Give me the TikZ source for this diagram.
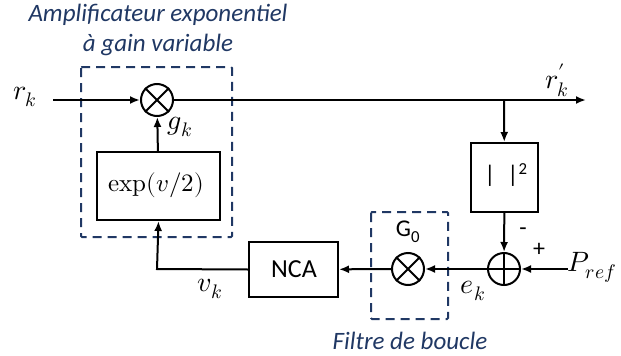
\documentclass[tikz,border=0pt]{standalone}
\usepackage{fontspec}
\setmainfont{Carlito}
\usepackage{unicode-math}
\setmathfont{Latin Modern Math}
\usetikzlibrary{arrows.meta}
\definecolor{dblue}{HTML}{203864}
\begin{document}
\begin{tikzpicture}[x=1pt,y=-1pt,
  line width=2pt,
  arr/.style={-{Latex[length=10pt,width=8pt]}},
  blk/.style={draw,rectangle,inner sep=0pt},
  mult/.style={draw,circle,minimum size=32pt,inner sep=0pt},
  dbox/.style={draw=dblue,line width=2pt,dash pattern=on 9pt off 6pt,rounded corners=1pt},
  ttl/.style={text=dblue,font=\fontsize{25}{30}\selectfont\itshape,inner sep=0pt},
  lbl/.style={font=\fontsize{28}{32}\selectfont,inner sep=0pt},
  txt/.style={font=\fontsize{24}{27}\selectfont,inner sep=0pt}]
\useasboundingbox (0,0) rectangle (621,356);
% dashed boxes
\draw[dbox] (81,67) rectangle (232,237);
\draw[dbox] (371,212) rectangle (448,319);
% titles
\node[ttl] (t1) at (158,15) {Amplificateur exponentiel};
\node[ttl] (t2) at (158,45) {à gain variable};
\node[ttl] (t3) at (410,341) {Filtre de boucle};
% nodes
\node[lbl] (rk) at (25,97) {$r_k$};
\coordinate (rin) at (53,100);
\node[mult] (m1) at (157,100) {};
\draw (m1.north east) -- (m1.south west) (m1.north west) -- (m1.south east);
\node[blk,minimum width=123pt,minimum height=68pt] (ex) at (158.5,186) {};
\node[font=\fontsize{25}{28}\selectfont,inner sep=0pt] (exl) at (156,185) {$\symup{exp}(v/2)$};
\node[lbl] (gk) at (180,127) {$g_k$};
\coordinate (out) at (586,100);
\node[lbl] (rkp) at (557,80) {$r^{\prime}_k$};
\coordinate (br) at (504,100);
\node[blk,minimum width=67pt,minimum height=69pt] (sq) at (504.5,177.5) {};
\node[txt] (sql) at (506,175) {|\,\,\,|\textsuperscript{2}};
\node[mult] (sum) at (504,269) {};
\draw (sum.north) -- (sum.south) (sum.west) -- (sum.east);
\node[txt] (minus) at (523,232) {-};
\node[txt] (plus) at (539,250) {+};
\node[lbl] (pref) at (592,267) {$P_{ref}$};
\coordinate (pin) at (568,269);
\node[lbl] (ek) at (473,291) {$e_k$};
\node[mult] (m2) at (408,269) {};
\draw (m2.north east) -- (m2.south west) (m2.north west) -- (m2.south east);
\node[txt] (g0) at (408,232) {G\textsubscript{0}};
\node[blk,minimum width=89pt,minimum height=55pt] (nca) at (293.5,269.5) {};
\node[font=\fontsize{26}{29}\selectfont,inner sep=0pt] (ncal) at (294,269.5) {NCA};
\coordinate (corner) at (157,269);
\node[lbl] (vk) at (210,289) {$v_k$};
% connectors
\draw[arr] (rin) -- (m1);
\draw[arr] (m1) -- (out);
\draw[arr] (ex) -- (m1);
\draw[arr] (br) -- (sq);
\draw[arr] (sq) -- (sum);
\draw[arr] (pin) -- (sum);
\draw[arr] (sum) -- (m2);
\draw[arr] (m2) -- (nca);
\draw[arr] (nca.west) -- (corner) -- (ex.south);
\end{tikzpicture}
\end{document}
